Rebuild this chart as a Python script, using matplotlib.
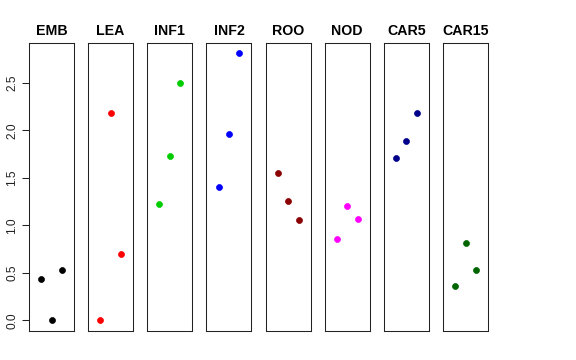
import numpy as np
import matplotlib
matplotlib.use("Agg")
import matplotlib.pyplot as plt

plt.rcParams["font.family"] = ["Liberation Sans", "DejaVu Sans"]

groups = ["EMB", "LEA", "INF1", "INF2", "ROO", "NOD", "CAR5", "CAR15"]
colors = ["black", "red", "#00CD00", "blue", "#8B0000", "#FF00FF", "#00008B", "#006400"]
positions = [1, 2, 3]

emb = [0.44, 0.00, 0.53]
lea = [0.00, 2.18, 0.70]
inf1 = [1.22, 1.73, 2.50]
inf2 = [1.40, 1.96, 2.81]
roo = [1.55, 1.26, 1.06]
nod = [0.86, 1.20, 1.07]
car5 = [1.71, 1.89, 2.18]
car15 = [0.36, 0.81, 0.53]
values = [emb, lea, inf1, inf2, roo, nod, car5, car15]

W, H = 576, 360
fig = plt.figure(figsize=(W / 100, H / 100), dpi=100)

# R-style 4% padding on the shared y range and on x = 0..4
ymin = 0.0
ymax = max(max(v) for v in values)
ypad = 0.04 * (ymax - ymin)
xpad = 0.04 * 4

left0, step, pw = 29, 59.15, 45
top, bottom = 42.7, 331

for i, (name, col, vals) in enumerate(zip(groups, colors, values)):
    x0 = left0 + i * step
    ax = fig.add_axes([x0 / W, (H - bottom) / H, pw / W, (bottom - top) / H])
    ax.plot(positions, vals, "o", color=col, ms=4.3, mec=col, mew=0.5)
    ax.set_xlim(0 - xpad, 4 + xpad)
    ax.set_ylim(ymin - ypad, ymax + ypad)
    ax.set_xticks([])
    ax.set_title(name, fontsize=10.2, fontweight="bold", pad=5.5)
    for s in ax.spines.values():
        s.set_linewidth(0.75)
        s.set_color("#222222")
    if i == 0:
        ax.set_yticks([0, 0.5, 1.0, 1.5, 2.0, 2.5])
        ax.set_yticklabels(["0.0", "0.5", "1.0", "1.5", "2.0", "2.5"],
                           rotation=90, va="center", fontsize=8.6, color="#222222")
        ax.tick_params(axis="y", length=5.2, width=0.75, pad=2.5, color="#222222")
    else:
        ax.set_yticks([])

plt.savefig("out.png", dpi=100)
plt.close(fig)
